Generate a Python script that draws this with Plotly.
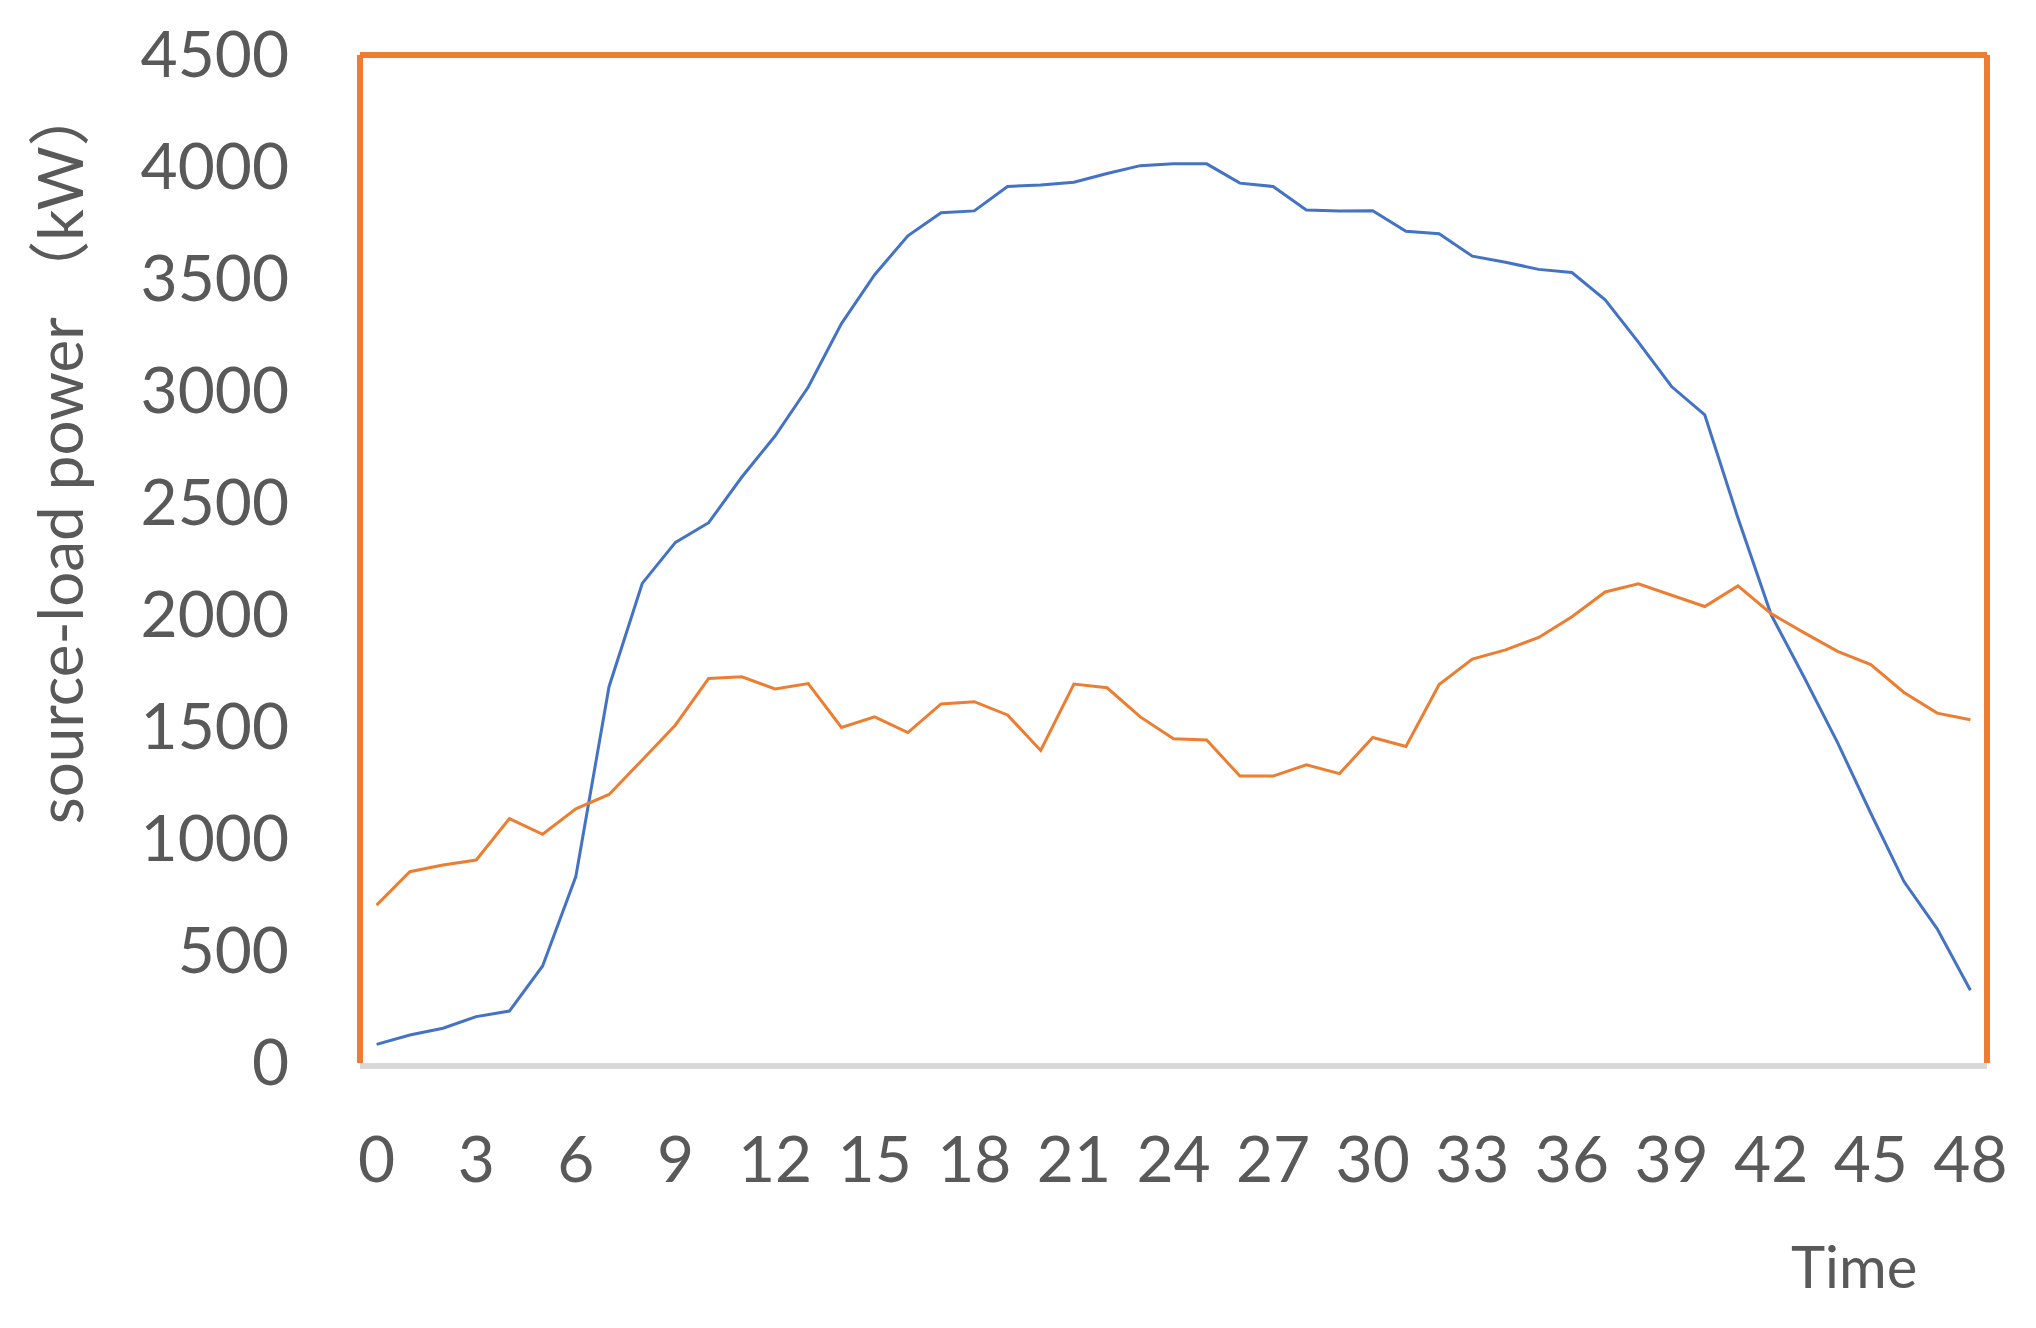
import plotly.graph_objects as go

# time steps and the two series
time_steps = list(range(49))
x_ticks = list(range(0, 49, 3))
y_ticks = [0, 500, 1000, 1500, 2000, 2500, 3000, 3500, 4000, 4500]

source_power = [83, 125, 155, 207, 232, 433, 832, 1680, 2141, 2324, 2412, 2616, 2799,
                3018, 3301, 3519, 3693, 3796, 3804, 3913, 3920, 3932, 3971, 4006, 4014,
                4014, 3928, 3913, 3808, 3804, 3805, 3713, 3702, 3602, 3575, 3543, 3529,
                3407, 3218, 3020, 2893, 2433, 2001, 1720, 1430, 1115, 810, 599, 325]

load_power = [705, 854, 884, 906, 1091, 1021, 1135, 1199, 1353, 1509, 1717, 1724, 1670,
              1694, 1498, 1545, 1475, 1603, 1613, 1554, 1395, 1692, 1675, 1545, 1448,
              1442, 1281, 1281, 1331, 1292, 1453, 1413, 1690, 1803, 1844, 1900, 1992,
              2103, 2139, 2087, 2038, 2130, 2006, 1920, 1838, 1779, 1654, 1562, 1532]

text_color = "#595959"
font_family = "Lato, 'Noto Sans CJK SC', sans-serif"
frame_color = "#ED7D31"

fig = go.Figure()

# source (blue) and load (orange) curves
fig.add_trace(go.Scatter(x=time_steps, y=source_power, mode="lines",
                         line=dict(color="#4472C4", width=3), name="source"))
fig.add_trace(go.Scatter(x=time_steps, y=load_power, mode="lines",
                         line=dict(color="#ED7D31", width=3), name="load"))

# orange frame on left, top and right; the bottom is the grey axis line
for x0, y0, x1, y1 in [(0, 0, 0, 1), (0, 1, 1, 1), (1, 0, 1, 1)]:
    fig.add_shape(type="line", xref="x domain", yref="y domain",
                  x0=x0, y0=y0, x1=x1, y1=y1,
                  line=dict(color=frame_color, width=6), layer="below")

# page body has an 8px margin, so the figure is a bit smaller than the window
fig.update_layout(
    width=2020, height=1312, autosize=False,
    margin=dict(l=352, r=41, t=47, b=257),
    paper_bgcolor="white", plot_bgcolor="white",
    showlegend=False,
    font=dict(family=font_family, color=text_color),
    xaxis=dict(range=[-0.5, 48.5], tickmode="array", tickvals=x_ticks,
               showgrid=False, zeroline=False, automargin=False,
               showline=True, linecolor="#D9D9D9", linewidth=6,
               ticks="", ticklabelstandoff=36,
               tickfont=dict(size=64, color=text_color, family=font_family)),
    yaxis=dict(range=[0, 4500], tickmode="array", tickvals=y_ticks,
               showgrid=False, zeroline=False, showline=False, automargin=False,
               ticks="", ticklabelstandoff=70,
               tickfont=dict(size=64, color=text_color, family=font_family)),
    annotations=[
        dict(text="source-load power （kW）", xref="paper", yref="paper",
             x=-0.185, y=0.604, xanchor="center", yanchor="middle",
             textangle=-90, showarrow=False,
             font=dict(size=62, color=text_color, family=font_family)),
        dict(text="Time", xref="paper", yref="paper",
             x=0.918, y=-0.201, xanchor="center", yanchor="middle",
             showarrow=False,
             font=dict(size=58, color=text_color, family=font_family)),
    ],
)

fig.write_html("out.html")
